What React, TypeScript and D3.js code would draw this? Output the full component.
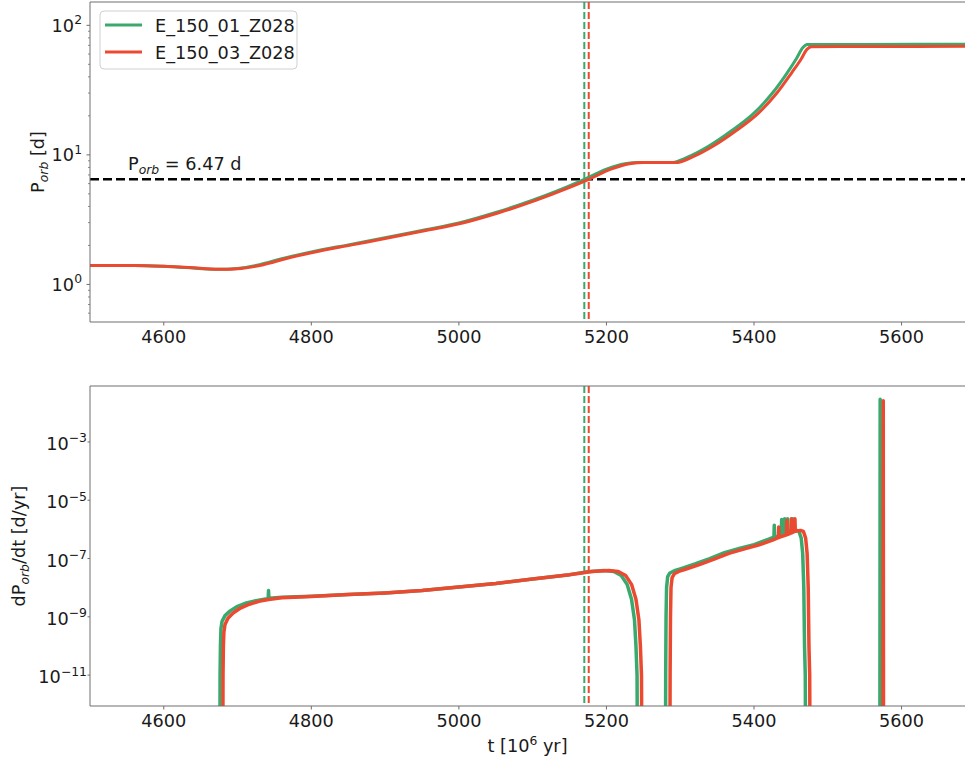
import React from 'react';
import * as d3 from 'd3';

// ---------- data ----------
const seriesNames = ['E_150_01_Z028', 'E_150_03_Z028'];
const seriesColors = ['#3aa96d', '#eb4a30'];

// Top panel: orbital period [d]
const tTopGreen = [4500, 4560, 4600, 4630, 4670, 4700, 4730, 4760, 4800, 4850, 4900, 4950, 5000, 5050, 5100, 5140, 5170, 5200, 5225, 5245, 5265, 5288, 5310, 5340, 5370, 5400, 5425, 5445, 5458, 5466, 5472, 5550, 5690];
const pTopGreen = [1.40, 1.40, 1.38, 1.35, 1.31, 1.33, 1.42, 1.58, 1.78, 2.02, 2.29, 2.61, 2.98, 3.59, 4.47, 5.46, 6.47, 7.75, 8.55, 8.75, 8.74, 8.72, 9.6, 11.8, 15.4, 21.0, 30, 43, 56, 67, 71, 71.2, 71.5];
const tTopRed = [4500, 4560, 4600, 4635, 4675, 4705, 4735, 4765, 4805, 4855, 4905, 4955, 5005, 5055, 5105, 5145, 5176, 5206, 5231, 5251, 5271, 5294, 5316, 5346, 5376, 5406, 5431, 5451, 5464, 5472, 5478, 5550, 5690];
const pTopRed = [1.40, 1.40, 1.38, 1.35, 1.31, 1.33, 1.42, 1.58, 1.78, 2.02, 2.29, 2.61, 2.98, 3.59, 4.47, 5.46, 6.47, 7.75, 8.55, 8.75, 8.74, 8.72, 9.6, 11.8, 15.4, 21.0, 30, 43, 55, 65.5, 68.4, 68.6, 68.8];

// Bottom panel: dP/dt [d/yr]
const tBotGreen = [4676, 4676.3, 4676.8, 4677.5, 4679, 4683, 4690, 4700, 4712, 4725, 4738, 4741.5, 4742, 4742.5, 4743, 4760, 4800, 4850, 4900, 4950, 5000, 5050, 5100, 5150, 5175, 5197, 5210, 5220, 5228, 5234, 5238, 5240, 5241.5, 5242,
  5280, 5280.3, 5280.8, 5281.5, 5283, 5286, 5292, 5300, 5320, 5340, 5360, 5380, 5400, 5420, 5427, 5427.5, 5428, 5435, 5437, 5437.5, 5438, 5441, 5441.5, 5442, 5445, 5445.5, 5446, 5450, 5452, 5452.5, 5453, 5457, 5461, 5464, 5466, 5467.5, 5468.5, 5469.5, 5470,
  5570.6, 5571, 5571.4];
const vBotGreen = [1e-14, 1e-11, 1e-10, 4e-10, 7e-10, 1.1e-9, 1.6e-9, 2.3e-9, 3.0e-9, 3.6e-9, 4.1e-9, 4.2e-9, 8e-9, 4.3e-9, 4.3e-9, 4.7e-9, 5.1e-9, 5.8e-9, 6.6e-9, 8.0e-9, 1.05e-8, 1.4e-8, 2.0e-8, 2.8e-8, 3.5e-8, 3.9e-8, 3.6e-8, 2.6e-8, 1.3e-8, 4e-9, 8e-10, 1e-10, 1e-11, 1e-14,
  1e-14, 1e-11, 1e-9, 1e-8, 2.4e-8, 3.2e-8, 3.8e-8, 4.4e-8, 6.5e-8, 1.0e-7, 1.6e-7, 2.2e-7, 3.0e-7, 4.6e-7, 5.4e-7, 1.4e-6, 5.4e-7, 6.0e-7, 6.2e-7, 2.2e-6, 6.3e-7, 7.0e-7, 2.3e-6, 7.2e-7, 8.0e-7, 2.3e-6, 8.2e-7, 9.0e-7, 9.3e-7, 2.3e-6, 9.3e-7, 9.5e-7, 8.5e-7, 5e-7, 1.5e-7, 1e-8, 1e-10, 1e-11, 1e-14,
  1e-14, 0.029, 1e-14];
const tBotRed = [4680, 4680.3, 4680.8, 4681.5, 4683, 4687, 4694, 4704, 4716, 4729, 4742, 4760, 4800, 4850, 4900, 4950, 5000, 5050, 5100, 5150, 5180, 5203, 5216, 5226, 5234, 5240, 5244, 5246, 5247.5, 5248,
  5286, 5286.3, 5286.8, 5287.5, 5289, 5292, 5298, 5306, 5326, 5346, 5366, 5386, 5406, 5426, 5433, 5433.5, 5434, 5444, 5444.5, 5445, 5450, 5450.5, 5451, 5455, 5455.5, 5456, 5460, 5463, 5467, 5470, 5472, 5473.5, 5474.5, 5475.5, 5476,
  5574.8, 5575.2, 5575.6];
const vBotRed = [1e-14, 1e-11, 1e-10, 3e-10, 5.5e-10, 9e-10, 1.35e-9, 2.0e-9, 2.7e-9, 3.4e-9, 3.9e-9, 4.5e-9, 5.0e-9, 5.8e-9, 6.6e-9, 8.0e-9, 1.05e-8, 1.4e-8, 2.0e-8, 2.8e-8, 3.6e-8, 3.9e-8, 3.6e-8, 2.6e-8, 1.3e-8, 4e-9, 8e-10, 1e-10, 1e-11, 1e-14,
  1e-14, 1e-11, 1e-9, 1e-8, 2.2e-8, 3.0e-8, 3.6e-8, 4.2e-8, 6.2e-8, 9.5e-8, 1.5e-7, 2.1e-7, 2.9e-7, 4.4e-7, 5.2e-7, 1.2e-6, 5.3e-7, 6.5e-7, 2.0e-6, 6.6e-7, 7.5e-7, 2.3e-6, 7.6e-7, 8.5e-7, 2.3e-6, 8.6e-7, 9.0e-7, 9.2e-7, 8.5e-7, 5e-7, 1.5e-7, 1e-8, 1e-10, 1e-11, 1e-14,
  1e-14, 0.026, 1e-14];

const markerTimes = [5170, 5176];
const pCrit = 6.47;
const xTicks = [4600, 4800, 5000, 5200, 5400, 5600];
const yTopTickExps = [0, 1, 2];
const yBotTickExps = [-11, -9, -7, -5, -3];

// ---------- layout ----------
const FONT = "'DejaVu Sans', 'Liberation Sans', sans-serif";
const FS = 17.7;
const L = 90, R = 965;
const TOP = { y0: 2, y1: 322 };
const BOT = { y0: 386, y1: 706 };
const SPINE = '#6e6e6e';

export default function App() {
  const x = d3.scaleLinear().domain([4500, 5686]).range([L, R]);
  const yTop = d3.scaleLog().domain([Math.pow(10, -0.29), Math.pow(10, 2.18)]).range([TOP.y1, TOP.y0]);
  const yBot = d3.scaleLog().domain([Math.pow(10, -12.06), Math.pow(10, -1.08)]).range([BOT.y1, BOT.y0]);

  const topLine = d3.line<[number, number]>().x(d => x(d[0])).y(d => yTop(d[1])).curve(d3.curveMonotoneX);
  const botLine = d3.line<[number, number]>().x(d => x(d[0])).y(d => yBot(d[1]));

  const zip = (a: number[], b: number[]) => a.map((v, i) => [v, b[i]] as [number, number]);
  const topData = [zip(tTopGreen, pTopGreen), zip(tTopRed, pTopRed)];
  const botData = [zip(tBotGreen, vBotGreen), zip(tBotRed, vBotRed)];

  const minorTop: number[] = [];
  for (let k = -1; k <= 2; k++) for (let m = 2; m <= 9; m++) {
    const v = m * Math.pow(10, k);
    const [a, b] = yTop.domain();
    if (v > a && v < b) minorTop.push(v);
  }

  const sup = (base: string, exp: string, xx: number, yy: number, key: string) => (
    <text key={key} x={xx} y={yy} textAnchor="end" fontFamily={FONT} fontSize={FS} fill="#1a1a1a">
      {base}<tspan dy={-7.5} fontSize={FS * 0.7}>{exp}</tspan>
    </text>
  );

  const xAxis = (yAx: number, keyp: string) => (
    <g key={keyp}>
      {xTicks.map(t => (
        <g key={keyp + t}>
          <line x1={x(t)} x2={x(t)} y1={yAx} y2={yAx + 3.5} stroke={SPINE} strokeWidth={1} />
          <text x={x(t)} y={yAx + 21} textAnchor="middle" fontFamily={FONT} fontSize={FS} fill="#1a1a1a">{t}</text>
        </g>
      ))}
    </g>
  );

  return (
    <svg width={965} height={760} style={{ position: 'absolute', left: 0, top: 0, background: '#fff' }}>
      <defs>
        <clipPath id="clipTop"><rect x={L} y={TOP.y0} width={R - L + 2} height={TOP.y1 - TOP.y0} /></clipPath>
        <clipPath id="clipBot"><rect x={L} y={BOT.y0} width={R - L + 2} height={BOT.y1 - BOT.y0} /></clipPath>
      </defs>
      <rect x={0} y={0} width={965} height={760} fill="#fff" />

      {/* ---------- TOP PANEL ---------- */}
      <g clipPath="url(#clipTop)">
        <line x1={L} x2={R} y1={yTop(pCrit)} y2={yTop(pCrit)} stroke="#000" strokeWidth={2.5} strokeDasharray="9,4" />
        {markerTimes.map((t, i) => (
          <line key={'vt' + i} x1={x(t)} x2={x(t)} y1={TOP.y0} y2={TOP.y1} stroke={seriesColors[i]} strokeWidth={2} strokeDasharray="7,3" />
        ))}
        {topData.map((d, i) => (
          <path key={'tp' + i} d={topLine(d) || ''} fill="none" stroke={seriesColors[i]} strokeWidth={3} strokeLinejoin="round" />
        ))}
      </g>
      <text x={128} y={170} fontFamily={FONT} fontSize={FS} fill="#1a1a1a">
        P<tspan dy={4} fontSize={FS * 0.7} fontStyle="italic">orb</tspan><tspan dy={-4}> = 6.47 d</tspan>
      </text>
      {/* spines */}
      <line x1={L} x2={L} y1={TOP.y0} y2={TOP.y1} stroke={SPINE} strokeWidth={1} />
      <line x1={L} x2={R} y1={TOP.y0} y2={TOP.y0} stroke={SPINE} strokeWidth={1} />
      <line x1={L} x2={R} y1={TOP.y1} y2={TOP.y1} stroke={SPINE} strokeWidth={1} />
      {yTopTickExps.map(e => (
        <g key={'yt' + e}>
          <line x1={L - 3.5} x2={L} y1={yTop(Math.pow(10, e))} y2={yTop(Math.pow(10, e))} stroke={SPINE} />
          {sup('10', String(e), 82, yTop(Math.pow(10, e)) + 6.5, 'ytl' + e)}
        </g>
      ))}
      {minorTop.map(v => (
        <line key={'mt' + v} x1={L - 2} x2={L} y1={yTop(v)} y2={yTop(v)} stroke={SPINE} strokeWidth={0.8} />
      ))}
      {xAxis(TOP.y1, 'xt')}
      <text transform={`translate(44,${(TOP.y0 + TOP.y1) / 2}) rotate(-90)`} textAnchor="middle" fontFamily={FONT} fontSize={FS} fill="#1a1a1a">
        P<tspan dy={4} fontSize={FS * 0.7} fontStyle="italic">orb</tspan><tspan dy={-4}> [d]</tspan>
      </text>

      {/* legend */}
      <rect x={100} y={11} width={197} height={58} rx={4} fill="#fff" fillOpacity={0.8} stroke="#d0d0d0" strokeWidth={1} />
      {seriesNames.map((n, i) => (
        <g key={'lg' + i}>
          <line x1={105} x2={142} y1={25 + i * 27} y2={25 + i * 27} stroke={seriesColors[i]} strokeWidth={3} />
          <text x={155} y={31.5 + i * 27} fontFamily={FONT} fontSize={FS} fill="#1a1a1a">{n}</text>
        </g>
      ))}

      {/* ---------- BOTTOM PANEL ---------- */}
      <g clipPath="url(#clipBot)">
        {markerTimes.map((t, i) => (
          <line key={'vb' + i} x1={x(t)} x2={x(t)} y1={BOT.y0} y2={BOT.y1} stroke={seriesColors[i]} strokeWidth={2} strokeDasharray="7,3" />
        ))}
        {botData.map((d, i) => (
          <path key={'bp' + i} d={botLine(d) || ''} fill="none" stroke={seriesColors[i]} strokeWidth={3.5} strokeLinejoin="round" />
        ))}
      </g>
      <line x1={L} x2={L} y1={BOT.y0} y2={BOT.y1} stroke={SPINE} strokeWidth={1} />
      <line x1={L} x2={R} y1={BOT.y0} y2={BOT.y0} stroke={SPINE} strokeWidth={1} />
      <line x1={L} x2={R} y1={BOT.y1} y2={BOT.y1} stroke={SPINE} strokeWidth={1} />
      {yBotTickExps.map(e => (
        <g key={'yb' + e}>
          <line x1={L - 2.5} x2={L} y1={yBot(Math.pow(10, e))} y2={yBot(Math.pow(10, e))} stroke={SPINE} />
          {sup('10', '\u2212' + String(-e), 87, yBot(Math.pow(10, e)) + 8, 'ybl' + e)}
        </g>
      ))}
      {xAxis(BOT.y1, 'xb')}
      <text transform={`translate(25,${(BOT.y0 + BOT.y1) / 2}) rotate(-90)`} textAnchor="middle" fontFamily={FONT} fontSize={FS} fill="#1a1a1a">
        dP<tspan dy={4} fontSize={FS * 0.7} fontStyle="italic">orb</tspan><tspan dy={-4}>/dt [d/yr]</tspan>
      </text>
      <text x={(L + R) / 2} y={752} textAnchor="middle" fontFamily={FONT} fontSize={FS} fill="#1a1a1a">
        t [10<tspan dy={-7.5} fontSize={FS * 0.7}>6</tspan><tspan dy={7.5}> yr]</tspan>
      </text>
    </svg>
  );
}
